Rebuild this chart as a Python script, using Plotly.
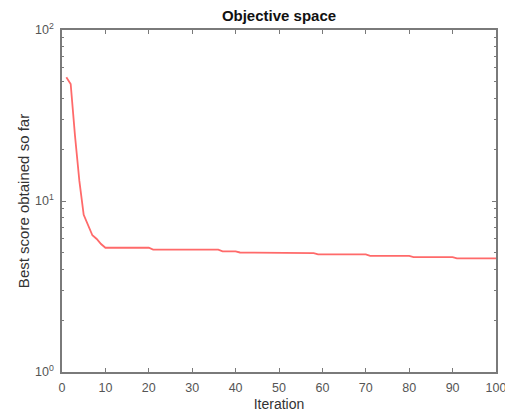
import plotly.graph_objects as go

iterations = list(range(1, 101))
best_score = (
    [52.9, 48.3, 24.0, 13.1, 8.3, 7.3, 6.3, 6.0, 5.6, 5.33]
    + [5.33] * 10
    + [5.2] * 16
    + [5.08] * 4
    + [5.0] * 12
    + [4.95] * 6
    + [4.87] * 12
    + [4.77] * 10
    + [4.7] * 10
    + [4.62] * 10
)

x_ticks = [0, 10, 20, 30, 40, 50, 60, 70, 80, 90, 100]
y_major = [1, 10, 100]
y_major_text = ["10<sup>0</sup>", "10<sup>1</sup>", "10<sup>2</sup>"]
y_minor = [2, 3, 4, 5, 6, 7, 8, 9, 20, 30, 40, 50, 60, 70, 80, 90]

axis_color = "#7a7a7a"
font_fam = "Liberation Sans, Arial, sans-serif"

fig = go.Figure()
fig.add_trace(go.Scatter(
    x=iterations, y=best_score, mode="lines",
    line=dict(color="#ff6a6a", width=1.8),
    showlegend=False,
))

# page body has an 8px default margin, so the figure is sized/offset for it
fig.update_layout(
    width=505, height=406,
    margin=dict(l=54, r=17, t=22, b=42, autoexpand=False),
    paper_bgcolor="white", plot_bgcolor="white",
    font=dict(family=font_fam, size=12, color="#333333"),
    title=dict(text="<b>Objective space</b>", x=0.5, xanchor="center",
               xref="paper", y=1, yref="container", yanchor="top", pad=dict(t=2),
               font=dict(family=font_fam, size=15, color="#111111")),
)

fig.update_xaxes(
    range=[0, 100], tickvals=x_ticks, ticks="inside", ticklen=4,
    tickcolor=axis_color, showline=True, linecolor=axis_color, linewidth=1.5,
    mirror="ticks", showgrid=False, zeroline=False, automargin=False,
    ticklabelstandoff=3,
    title=dict(text="Iteration", standoff=5, font=dict(size=14, color="#333333")),
    tickfont=dict(size=12.5, color="#555555"),
)
fig.update_yaxes(
    type="log", range=[0, 2], tickvals=y_major, ticktext=y_major_text,
    ticks="inside", ticklen=4, tickcolor=axis_color,
    minor=dict(tickvals=y_minor, ticks="inside", ticklen=2.5, tickcolor=axis_color),
    showline=True, linecolor=axis_color, linewidth=1.5,
    mirror="ticks", showgrid=False, zeroline=False, automargin=False,
    ticklabelstandoff=4,
    title=dict(text="Best score obtained so far", standoff=2, font=dict(size=15, color="#333333")),
    tickfont=dict(size=12.5, color="#555555"),
)

fig.write_html("out.html")
